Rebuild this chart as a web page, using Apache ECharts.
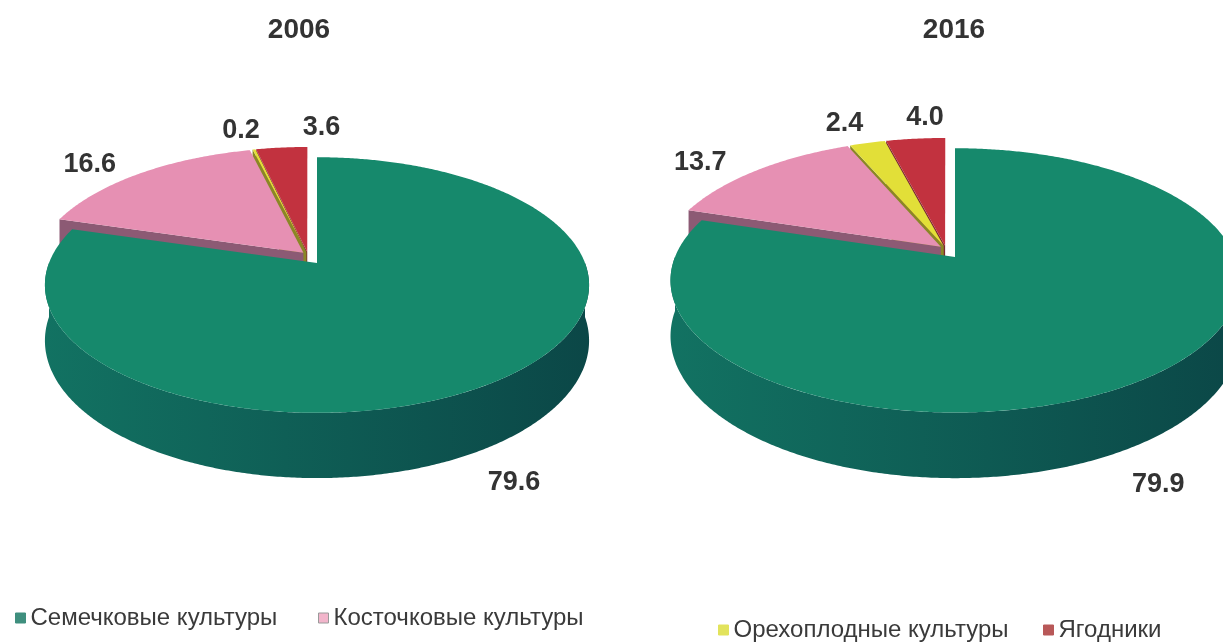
<!DOCTYPE html>
<html lang="ru">
<head>
<meta charset="UTF-8">
<title>Структура многолетних насаждений, %</title>
<script src="https://cdn.jsdelivr.net/npm/echarts@6/dist/echarts.min.js"></script>
<style>
  html, body { margin: 0; padding: 0; background: #fff; }
  #chart { width: 1223px; height: 642px; }
</style>
</head>
<body>
<div id="chart"></div>
<script>
var years = ['2006', '2016'];
var crops = ['Семечковые культуры', 'Косточковые культуры', 'Орехоплодные культуры', 'Ягодники'];
var share2006 = [79.6, 16.6, 0.2, 3.6];
var share2016 = [79.9, 13.7, 2.4, 4.0];
var shares = [share2006, share2016];

var topColors = ['#16896c', '#e690b3', '#e2df38', '#c2323f'];
var faceColors = ['#0f6a5c', '#8c5a74', '#8a8726', '#7c2831'];
var wallColors = [['#127262', '#0b4747'], ['#a06a84', '#6e4458'], ['#a09d2e', '#6e6b1c'], ['#93303a', '#5e1d24']];
var legendColors = ['#3f8f7e', '#f2b5cb', '#e2e35c', '#b85858'];

// geometry of each pie (px): vertex, radii, height of the side, camera distance
var pies = [
    {cx: 317, cy: 263, rx: 268, ry: 124, h: 54, d: 5.8},
    {cx: 955, cy: 257, rx: 280, ry: 128, h: 54, d: 5.65}
];
var shift = [-9, -8];     // pulled out slices (all but the first)
var explode = 0.025;
var RAD = Math.PI / 180;
var labelFont = 'Liberation Sans, Arial, sans-serif';
var labelSize = 27;

function pt(p, X, Z, drop, sh) {
    var s = p.d / (p.d + Z);
    return [p.cx + sh[0] + p.rx * X * s, p.cy + sh[1] - p.ry * Z * s + p.h * drop * s];
}

// label centres of one pie, pushed apart when they collide
function labelSpots(i) {
    var vals = shares[i], p = pies[i];
    var total = vals.reduce(function (s, v) { return s + v; }, 0);
    var cum = 0, spots = [];
    vals.forEach(function (v, k) {
        var m = (cum + v / 2) / total * 360;
        cum += v;
        var sm = Math.sin(m * RAD), cm = Math.cos(m * RAD);
        spots.push({
            x: p.cx + 1.23 * p.rx * sm,
            y: cm >= 0 ? p.cy - 1.1 * p.ry * cm
                       : p.cy - 1.1 * p.ry * cm * (p.d + 1) / (p.d - 1) + p.h * 1.2,
            w: v.toFixed(1).length * labelSize * 0.5,
            back: cm >= 0
        });
    });
    var row = spots.filter(function (s) { return s.back; }).sort(function (a, b) { return a.x - b.x; });
    for (var q = 1; q < row.length; q++) {
        var minX = row[q - 1].x + row[q - 1].w / 2 + 40 + row[q].w / 2;
        if (row[q].x < minX) row[q].x = minX;
    }
    return spots;
}

function renderSlice(params, api) {
    var k = params.seriesIndex, i = params.dataIndex;
    var vals = shares[i], p = pies[i];
    var total = 0, before = 0;
    vals.forEach(function (v, j) { total += v; if (j < k) before += v; });
    var a = before / total * 360;
    var b = (before + vals[k]) / total * 360;
    var m = (a + b) / 2;
    var ex = k >= 1 ? explode : 0;
    var sh = k >= 1 ? shift : [0, 0];
    var ox = ex * Math.sin(m * RAD), oz = ex * Math.cos(m * RAD);

    function rim(t, drop) {
        return pt(p, ox + Math.sin(t * RAD), oz + Math.cos(t * RAD), drop, sh);
    }
    function arc(t0, t1, drop) {
        var n = Math.max(2, Math.ceil(Math.abs(t1 - t0) / 0.5) + 1), out = [];
        for (var q = 0; q < n; q++) out.push(rim(t0 + (t1 - t0) * q / (n - 1), drop));
        return out;
    }

    // far slices are painted first
    var cum = 0, rank = 0;
    vals.forEach(function (v, j) {
        var mj = (cum + v / 2) / total * 360;
        cum += v;
        if (j !== k && Math.cos(mj * RAD) > Math.cos(m * RAD)) rank++;
    });
    var base = rank * 10;

    var vTop = pt(p, ox, oz, 0, sh), vBot = pt(p, ox, oz, 1, sh);
    var children = [];

    if (Math.sin(a * RAD) < -0.01) {
        children.push({type: 'polygon', z2: base, shape: {points: [vTop, rim(a, 0), rim(a, 1), vBot]},
            style: {fill: faceColors[k]}});
    }
    if (Math.sin(b * RAD) > 0.01) {
        children.push({type: 'polygon', z2: base, shape: {points: [vTop, rim(b, 0), rim(b, 1), vBot]},
            style: {fill: faceColors[k]}});
    }
    var w0 = Math.max(a, 90), w1 = Math.min(b, 270);
    if (w1 > w0) {
        var wall = arc(w0, w1, 0).concat(arc(w1, w0, 1));
        children.push({type: 'polygon', z2: base + 1, shape: {points: wall},
            style: {fill: new echarts.graphic.LinearGradient(1, 0, 0, 0, [
                {offset: 0, color: wallColors[k][1]},
                {offset: 1, color: wallColors[k][0]}
            ])}});
    }
    children.push({type: 'polygon', z2: base + 2, shape: {points: [vTop].concat(arc(a, b, 0))},
        style: {fill: topColors[k]}});

    var spot = labelSpots(i)[k];
    children.push({type: 'text', z2: 200, style: {
        text: vals[k].toFixed(1), x: spot.x, y: spot.y, align: 'center', verticalAlign: 'middle',
        fontSize: labelSize, fontWeight: 'bold', fill: '#333', fontFamily: labelFont}});

    return {type: 'group', children: children};
}

var chart = echarts.init(document.getElementById('chart'));
var legendX = [15, 318, 718, 1043];
var legendY = [606, 606, 618, 618];

chart.setOption({
    backgroundColor: '#fff',
    animation: false,
    title: years.map(function (y, i) {
        return {text: y, left: i === 0 ? 294 : 949, top: 11, textAlign: 'center',
            textStyle: {fontSize: 28, fontWeight: 'bold', color: '#333', fontFamily: labelFont}};
    }),
    legend: crops.map(function (c, k) {
        return {
            data: [{name: c, itemStyle: {color: legendColors[k], borderColor: k === 1 ? '#9a9a9a' : legendColors[k], borderWidth: 1}}],
            left: legendX[k], top: legendY[k], padding: 0, icon: 'rect', itemWidth: 10, itemHeight: 10, itemGap: 4,
            selectedMode: false,
            textStyle: {fontSize: 24, color: '#3a3a3a', fontFamily: labelFont}
        };
    }),
    series: crops.map(function (c, k) {
        return {
            type: 'custom', name: c, coordinateSystem: 'none', silent: true,
            itemStyle: {color: topColors[k]},
            renderItem: renderSlice,
            data: [share2006[k], share2016[k]]
        };
    })
});
</script>
</body>
</html>
